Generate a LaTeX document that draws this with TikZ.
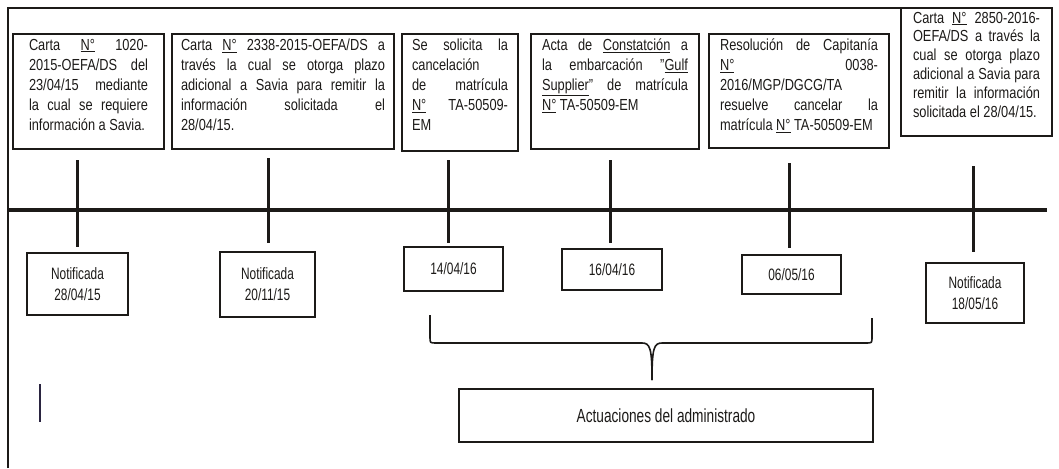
\documentclass[tikz,border=0pt]{standalone}
\usepackage{fontspec}
\setmainfont[FakeStretch=0.8]{Liberation Sans}
\newfontfamily\narrowfont[FakeStretch=0.72]{Liberation Sans}
\definecolor{ink}{HTML}{1C1A18}
\definecolor{pen}{HTML}{2A2440}
\newcommand\tboxtext[4][20pt]{\parbox[c][#3][t]{#2}{\fontsize{16pt}{#1}\selectfont\hyphenpenalty=10000\exhyphenpenalty=10000\tolerance=10000\parindent=0pt #4}}
\tikzset{
  frame/.style={draw=ink, line width=2pt},
  timeline/.style={draw=ink, line width=4pt},
  tick/.style={draw=ink, line width=3pt},
  tbox/.style={draw=ink, line width=2pt, anchor=north west, inner ysep=5pt, text=ink},
  bbox/.style={draw=ink, line width=2pt, inner sep=0pt, align=center, text=ink,
     font=\narrowfont\fontsize{16.5pt}{21pt}\selectfont},
  bracepath/.style={draw=ink, line width=1.6pt, line join=round},
}
\begin{document}
\begin{tikzpicture}[x=1pt,y=-1pt]
\useasboundingbox (0,0) rectangle (1059,468);
% outer frame (top and left sides)
\draw[frame] (8,468) -- (8,8) -- (1052,8);
% timeline
\draw[timeline] (8,210) -- (1047,210);
% ticks
\coordinate (t1a) at (77,160);  \coordinate (t1b) at (77,247);
\coordinate (t2a) at (268,158); \coordinate (t2b) at (268,243);
\coordinate (t3a) at (448,160); \coordinate (t3b) at (448,243);
\coordinate (t4a) at (610,160); \coordinate (t4b) at (610,243);
\coordinate (t5a) at (789,163); \coordinate (t5b) at (789,248);
\coordinate (t6a) at (973,166); \coordinate (t6b) at (973,252);
\foreach \i in {1,...,6} {\draw[tick] (t\i a) -- (t\i b);}
% top boxes
\node[tbox, inner xsep=16pt] (c1) at (12,33) {\tboxtext{119pt}{105pt}{Carta \underline{N°} 1020-\linebreak 2015-OEFA/DS del\linebreak 23/04/15 mediante\linebreak la cual se requiere\linebreak información a Savia.}};
\node[tbox, inner xsep=9pt] (c2) at (171,33) {\tboxtext{204pt}{105pt}{Carta \underline{N°} 2338-2015-OEFA/DS a\linebreak través la cual se otorga plazo\linebreak adicional a Savia para remitir la\linebreak información solicitada el\linebreak 28/04/15.}};
\node[tbox, inner xsep=10pt] (c3) at (401,33) {\tboxtext{96pt}{107pt}{Se solicita la\linebreak cancelación\\ de matrícula\linebreak \underline{N°} TA-50509-\linebreak EM}};
\node[tbox, inner xsep=11pt] (c4) at (530,33) {\tboxtext{146pt}{105pt}{Acta de \underline{Constatción} a\linebreak la embarcación "\underline{Gulf}\linebreak \underline{Supplier}" de matrícula\linebreak \underline{N°} TA-50509-EM}};
\node[tbox, inner xsep=11pt] (c5) at (708,33) {\tboxtext{158pt}{104pt}{Resolución de Capitanía\linebreak \underline{N°} 0038-\linebreak 2016/MGP/DGCG/TA\\ resuelve cancelar la\linebreak matrícula \underline{N°} TA-50509-EM}};
\node[tbox, inner xsep=12pt, inner ysep=4pt] (c6) at (900,7) {\tboxtext[18.8pt]{127pt}{120pt}{Carta \underline{N°} 2850-2016-\linebreak OEFA/DS a través la\linebreak cual se otorga plazo\linebreak adicional a Savia para\linebreak remitir la información\linebreak solicitada el 28/04/15.}};
% bottom boxes
\node[bbox, minimum width=101pt, minimum height=62pt] (n1) at (77.5,284) {Notificada\\28/04/15};
\node[bbox, minimum width=95pt, minimum height=65pt] (n2) at (267.5,284.5) {Notificada\\20/11/15};
\node[bbox, minimum width=99pt, minimum height=44pt] (n3) at (453.5,269) {14/04/16};
\node[bbox, minimum width=100pt, minimum height=41pt] (n4) at (612,269.5) {16/04/16};
\node[bbox, minimum width=99pt, minimum height=39pt] (n5) at (791.5,274.5) {06/05/16};
\node[bbox, minimum width=98pt, minimum height=60pt] (n6) at (975,293) {Notificada\\18/05/16};
% brace
\coordinate (bl) at (430,315);
\coordinate (br) at (872,318);
\coordinate (bt) at (652,380);
\draw[bracepath] (bl) -- (430,337) .. controls (430,343) .. (436,343) -- (642,343) .. controls (650,343) and (652,348) .. (bt);
\draw[bracepath] (bt) .. controls (652,348) and (654,343) .. (662,343) -- (866,343) .. controls (872,343) .. (872,337) -- (br);
% summary box
\node[bbox, minimum width=414pt, minimum height=53pt, font=\narrowfont\fontsize{19pt}{21pt}\selectfont] (act) at (666,415.5) {Actuaciones del administrado};
% stray mark
\coordinate (m1) at (40,384); \coordinate (m2) at (40,422);
\draw[draw=pen, line width=1.5pt] (m1) -- (m2);
\end{tikzpicture}
\end{document}
